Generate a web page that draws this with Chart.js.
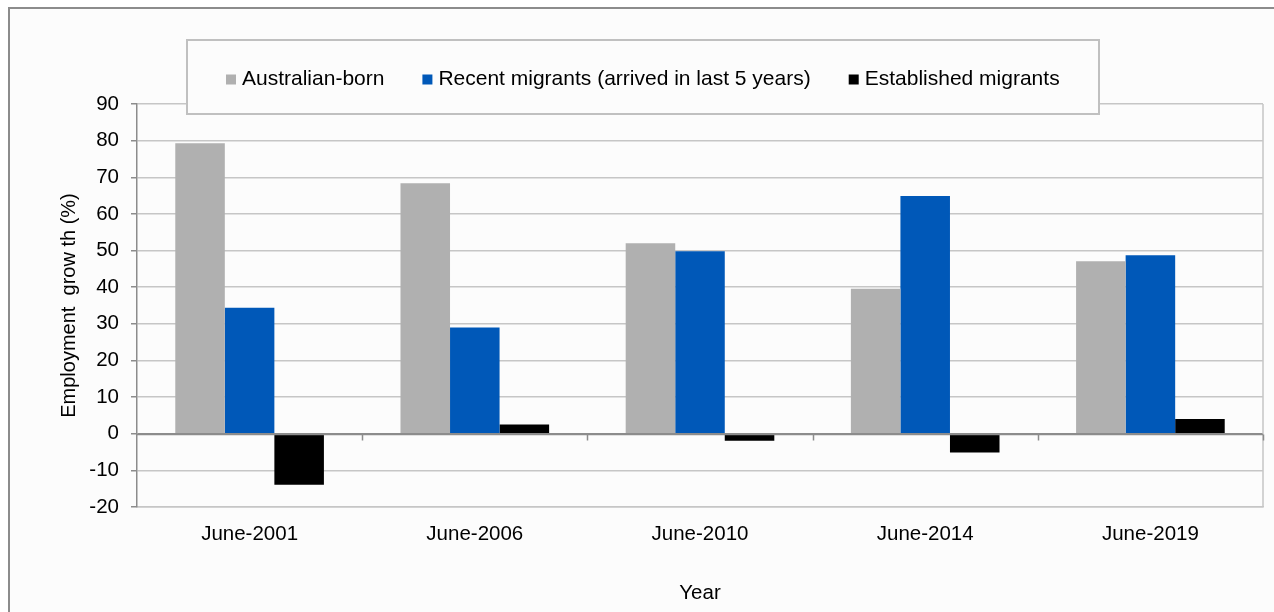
<!DOCTYPE html>
<html lang="en">
  <head>
    <meta charset="UTF-8" />
    <title>Employment growth by birthplace</title>
    <script src="https://cdn.jsdelivr.net/npm/chart.js@4"></script>
    <style>
      body { margin: 0; background: #ffffff; }
      canvas { display: block; }
    </style>
  </head>
  <body>
    <canvas id="myChart" width="1274" height="612"></canvas>

    <script>
      // employment growth (%) for each June period
      const categories = ['June-2001', 'June-2006', 'June-2010', 'June-2014', 'June-2019']
      const australianBorn = [79.3, 68.4, 52.0, 39.6, 47.1]
      const recentMigrants = [34.4, 29.0, 49.8, 64.9, 48.7]
      const establishedMigrants = [-13.9, 2.5, -1.9, -5.1, 4.0]

      const seriesNames = ['Australian-born', 'Recent migrants (arrived in last 5 years)', 'Established migrants']
      const seriesColors = ['#b0b0b0', '#0058b8', '#000000']

      const yMin = -20
      const yMax = 90
      const yStep = 10

      const FONT = "'Liberation Sans', Arial, sans-serif"
      const AXIS_GREY = '#8c8c8c'
      const GRID_GREY = '#c6c6c6'

      // outer frame, zero axis with its tick marks, and the boxed legend
      const framePlugin = {
        id: 'frame',
        beforeDraw(chart) {
          const ctx = chart.ctx
          const w = chart.width, h = chart.height
          ctx.save()
          ctx.fillStyle = '#ffffff'
          ctx.fillRect(0, 0, w, h)
          ctx.fillStyle = '#fcfcfc'
          ctx.fillRect(9, 8, w, h)
          ctx.strokeStyle = AXIS_GREY
          ctx.lineWidth = 2
          ctx.beginPath()
          ctx.moveTo(9, h)
          ctx.lineTo(9, 8)
          ctx.lineTo(w, 8)
          ctx.stroke()
          ctx.restore()
        },
        afterDatasetsDraw(chart) {
          const ctx = chart.ctx
          const area = chart.chartArea
          const x = chart.scales.x
          const y0 = Math.round(chart.scales.y.getPixelForValue(0)) + 0.5
          ctx.save()
          // right edge of the plot area
          ctx.strokeStyle = GRID_GREY
          ctx.lineWidth = 1.5
          ctx.beginPath()
          ctx.moveTo(area.right, area.top)
          ctx.lineTo(area.right, area.bottom)
          ctx.stroke()
          // category axis sits on zero
          ctx.strokeStyle = AXIS_GREY
          ctx.lineWidth = 1.5
          ctx.beginPath()
          ctx.moveTo(area.left, y0)
          ctx.lineTo(area.right, y0)
          for (let i = 1; i <= categories.length; i++) {
            let bx
            if (i < categories.length) bx = (x.getPixelForValue(i - 1) + x.getPixelForValue(i)) / 2
            else bx = area.right
            bx = Math.round(bx) + 0.5
            ctx.moveTo(bx, y0)
            ctx.lineTo(bx, y0 + 6)
          }
          ctx.stroke()
          ctx.restore()
        },
        afterDraw(chart) {
          const ctx = chart.ctx
          const area = chart.chartArea
          const box = { left: area.left + 50, top: 40, width: 912, height: 74 }
          ctx.save()
          ctx.fillStyle = '#fcfcfc'
          ctx.fillRect(box.left, box.top, box.width, box.height)
          ctx.strokeStyle = '#c0c0c0'
          ctx.lineWidth = 2
          ctx.strokeRect(box.left, box.top, box.width, box.height)

          ctx.font = '21px ' + FONT
          ctx.textBaseline = 'middle'
          ctx.textAlign = 'left'
          const cy = box.top + 39.5
          let lx = box.left + 39
          chart.data.datasets.forEach(ds => {
            ctx.fillStyle = ds.backgroundColor
            ctx.fillRect(lx, cy - 5, 10, 10)
            ctx.fillStyle = '#000000'
            ctx.fillText(ds.label, lx + 16, cy)
            lx += 16 + ctx.measureText(ds.label).width + 38
          })
          ctx.restore()
        }
      }

      const ctx = document.getElementById('myChart').getContext('2d')
      const myChart = new Chart(ctx, {
        type: 'bar',
        data: {
          labels: categories,
          datasets: [australianBorn, recentMigrants, establishedMigrants].map((values, i) => ({
            label: seriesNames[i],
            data: values,
            backgroundColor: seriesColors[i],
            borderWidth: 0,
            categoryPercentage: 0.66,
            barPercentage: 1
          }))
        },
        options: {
          responsive: false,
          devicePixelRatio: 1,
          animation: false,
          layout: { padding: { left: 50, top: 104, right: 11, bottom: 0 } },
          plugins: {
            legend: { display: false },
            tooltip: { enabled: false }
          },
          scales: {
            x: {
              grid: { display: false, drawTicks: false },
              border: { display: true, color: GRID_GREY, width: 1.5 },
              ticks: { color: '#000000', padding: 15, font: { family: FONT, size: 20.5 } },
              title: {
                display: true,
                text: 'Year',
                color: '#000000',
                padding: { top: 0, bottom: 6 },
                font: { family: FONT, size: 20.5 }
              },
              afterFit(scale) { scale.height = 105 }
            },
            y: {
              min: yMin,
              max: yMax,
              ticks: { stepSize: yStep, color: '#000000', padding: 12, font: { family: FONT, size: 20.5 } },
              grid: {
                color: c => c.tick && c.tick.value === 0 ? AXIS_GREY : GRID_GREY,
                lineWidth: 1.5,
                tickColor: AXIS_GREY,
                tickLength: 6
              },
              border: { color: AXIS_GREY, width: 1.5 },
              title: {
                display: true,
                text: 'Employment  grow th (%)',
                color: '#000000',
                padding: { top: 7, bottom: 0 },
                font: { family: FONT, size: 20 }
              },
              afterFit(scale) { scale.width = 87 }
            }
          }
        },
        plugins: [framePlugin]
      })
    </script>
  </body>
</html>
